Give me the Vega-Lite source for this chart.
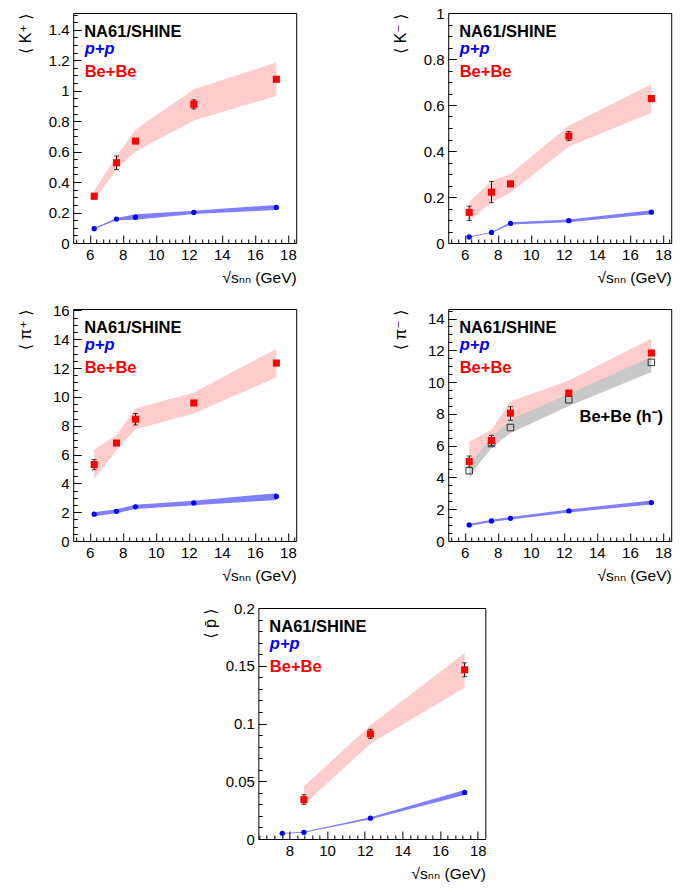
{
  "$schema": "https://vega.github.io/schema/vega-lite/v6.json",
  "background": "white",
  "padding": {"left": 16, "top": 5, "right": 5, "bottom": 5},
  "datasets": {
    "kp": [
      {"x": 6.27, "sys": "Be+Be", "y": 0.307, "lo": 0.29, "hi": 0.325, "sysLo": 0.275, "sysHi": 0.345},
      {"x": 7.62, "sys": "Be+Be", "y": 0.527, "lo": 0.483, "hi": 0.571, "sysLo": 0.485, "sysHi": 0.57},
      {"x": 8.77, "sys": "Be+Be", "y": 0.669, "lo": 0.66, "hi": 0.68, "sysLo": 0.6, "sysHi": 0.745},
      {"x": 12.3, "sys": "Be+Be", "y": 0.911, "lo": 0.88, "hi": 0.94, "sysLo": 0.805, "sysHi": 1.01},
      {"x": 17.3, "sys": "Be+Be", "y": 1.075, "lo": 1.065, "hi": 1.085, "sysLo": 0.965, "sysHi": 1.185},
      {"x": 6.27, "sys": "p+p", "y": 0.094, "sysLo": 0.09, "sysHi": 0.099},
      {"x": 7.62, "sys": "p+p", "y": 0.157, "sysLo": 0.15, "sysHi": 0.164},
      {"x": 8.77, "sys": "p+p", "y": 0.169, "sysLo": 0.152, "sysHi": 0.188},
      {"x": 12.3, "sys": "p+p", "y": 0.201, "sysLo": 0.19, "sysHi": 0.212},
      {"x": 17.3, "sys": "p+p", "y": 0.233, "sysLo": 0.217, "sysHi": 0.25}
    ],
    "km": [
      {"x": 6.27, "sys": "Be+Be", "y": 0.133, "lo": 0.098, "hi": 0.16, "sysLo": 0.095, "sysHi": 0.18},
      {"x": 7.62, "sys": "Be+Be", "y": 0.221, "lo": 0.175, "hi": 0.268, "sysLo": 0.177, "sysHi": 0.27},
      {"x": 8.77, "sys": "Be+Be", "y": 0.257, "lo": 0.25, "hi": 0.264, "sysLo": 0.218, "sysHi": 0.3},
      {"x": 12.3, "sys": "Be+Be", "y": 0.465, "lo": 0.445, "hi": 0.485, "sysLo": 0.42, "sysHi": 0.51},
      {"x": 17.3, "sys": "Be+Be", "y": 0.628, "lo": 0.62, "hi": 0.636, "sysLo": 0.565, "sysHi": 0.69},
      {"x": 6.27, "sys": "p+p", "y": 0.026, "sysLo": 0.024, "sysHi": 0.028},
      {"x": 7.62, "sys": "p+p", "y": 0.046, "sysLo": 0.044, "sysHi": 0.048},
      {"x": 8.77, "sys": "p+p", "y": 0.085, "sysLo": 0.08, "sysHi": 0.09},
      {"x": 12.3, "sys": "p+p", "y": 0.097, "sysLo": 0.09, "sysHi": 0.102},
      {"x": 17.3, "sys": "p+p", "y": 0.134, "sysLo": 0.125, "sysHi": 0.142}
    ],
    "pip": [
      {"x": 6.27, "sys": "Be+Be", "y": 5.3, "lo": 4.95, "hi": 5.65, "sysLo": 4.3, "sysHi": 6.35},
      {"x": 7.62, "sys": "Be+Be", "y": 6.8, "lo": 6.65, "hi": 6.95, "sysLo": 6.3, "sysHi": 7.35},
      {"x": 8.77, "sys": "Be+Be", "y": 8.45, "lo": 8.05, "hi": 8.85, "sysLo": 7.75, "sysHi": 9.2},
      {"x": 12.3, "sys": "Be+Be", "y": 9.58, "lo": 9.45, "hi": 9.7, "sysLo": 8.85, "sysHi": 10.3},
      {"x": 17.3, "sys": "Be+Be", "y": 12.35, "lo": 12.2, "hi": 12.5, "sysLo": 11.35, "sysHi": 13.35},
      {"x": 6.27, "sys": "p+p", "y": 1.86, "sysLo": 1.72, "sysHi": 2.0},
      {"x": 7.62, "sys": "p+p", "y": 2.06, "sysLo": 1.92, "sysHi": 2.2},
      {"x": 8.77, "sys": "p+p", "y": 2.37, "sysLo": 2.22, "sysHi": 2.52},
      {"x": 12.3, "sys": "p+p", "y": 2.64, "sysLo": 2.48, "sysHi": 2.8},
      {"x": 17.3, "sys": "p+p", "y": 3.09, "sysLo": 2.85, "sysHi": 3.32}
    ],
    "pim": [
      {"x": 6.27, "sys": "Be+Be", "y": 5.0, "lo": 4.65, "hi": 5.35, "sysLo": 3.9, "sysHi": 6.25},
      {"x": 7.62, "sys": "Be+Be", "y": 6.32, "lo": 6.0, "hi": 6.65, "sysLo": 6.15, "sysHi": 7.0},
      {"x": 8.77, "sys": "Be+Be", "y": 8.05, "lo": 7.6, "hi": 8.45, "sysLo": 7.55, "sysHi": 8.8},
      {"x": 12.3, "sys": "Be+Be", "y": 9.31, "lo": 9.2, "hi": 9.42, "sysLo": 8.7, "sysHi": 10.1},
      {"x": 17.3, "sys": "Be+Be", "y": 11.83, "lo": 11.73, "hi": 11.93, "sysLo": 11.1, "sysHi": 12.75},
      {"x": 6.27, "sys": "h-", "y": 4.42, "sysLo": 4.1, "sysHi": 4.85},
      {"x": 7.62, "sys": "h-", "y": 6.13, "sysLo": 5.85, "sysHi": 6.5},
      {"x": 8.77, "sys": "h-", "y": 7.14, "sysLo": 6.8, "sysHi": 7.65},
      {"x": 12.3, "sys": "h-", "y": 8.89, "sysLo": 8.5, "sysHi": 9.25},
      {"x": 17.3, "sys": "h-", "y": 11.24, "sysLo": 10.63, "sysHi": 11.6},
      {"x": 6.27, "sys": "p+p", "y": 1.01, "sysLo": 0.95, "sysHi": 1.07},
      {"x": 7.62, "sys": "p+p", "y": 1.26, "sysLo": 1.19, "sysHi": 1.33},
      {"x": 8.77, "sys": "p+p", "y": 1.43, "sysLo": 1.35, "sysHi": 1.51},
      {"x": 12.3, "sys": "p+p", "y": 1.89, "sysLo": 1.8, "sysHi": 1.98},
      {"x": 17.3, "sys": "p+p", "y": 2.42, "sysLo": 2.3, "sysHi": 2.55}
    ],
    "pbar": [
      {"x": 8.77, "sys": "Be+Be", "y": 0.034, "lo": 0.0298, "hi": 0.0383, "sysLo": 0.0297, "sysHi": 0.0456},
      {"x": 12.3, "sys": "Be+Be", "y": 0.091, "lo": 0.087, "hi": 0.095, "sysLo": 0.0825, "sysHi": 0.0985},
      {"x": 17.3, "sys": "Be+Be", "y": 0.1465, "lo": 0.1405, "hi": 0.1525, "sysLo": 0.131, "sysHi": 0.161},
      {"x": 7.62, "sys": "p+p", "y": 0.0049, "sysLo": 0.0045, "sysHi": 0.0053},
      {"x": 8.77, "sys": "p+p", "y": 0.0058, "sysLo": 0.0054, "sysHi": 0.0062},
      {"x": 12.3, "sys": "p+p", "y": 0.018, "sysLo": 0.0172, "sysHi": 0.0189},
      {"x": 17.3, "sys": "p+p", "y": 0.0403, "sysLo": 0.038, "sysHi": 0.0425}
    ]
  },
  "vconcat": [
    {
      "hconcat": [
        {
          "width": 223, "height": 230,
          "data": {"name": "kp"},
          "resolve": {"axis": {"x": "independent", "y": "independent"}},
          "layer": [
            {
              "encoding": {
                "x": {"field": "x", "type": "quantitative", "scale": {"domain": [5, 18.5], "nice": false, "zero": false}, "axis": {"values": [6, 8, 10, 12, 14, 16, 18], "tickCount": 100, "format": "~g", "labelOverlap": false, "title": "√sₙₙ (GeV)"}},
                "color": {"field": "sys", "type": "nominal", "scale": {"domain": ["p+p", "Be+Be"], "range": ["#0000ff", "#ff0000"]}, "legend": {"title": "NA61/SHINE", "symbolSize": 0, "labelOffset": -16, "labelColor": {"expr": "datum.label === 'p+p' ? '#0000ff' : '#ff0000'"}, "labelFontStyle": {"expr": "datum.label === 'p+p' ? 'italic' : 'normal'"}}}
              },
              "layer": [
                {"transform": [{"filter": "datum.sys === 'Be+Be'"}], "mark": {"type": "area", "opacity": 0.2}, "encoding": {"y": {"field": "sysLo", "type": "quantitative", "scale": {"domain": [0, 1.51], "nice": false}, "axis": {"values": [0, 0.2, 0.4, 0.6, 0.8, 1, 1.2, 1.4], "tickCount": 100, "format": "~g", "labelOverlap": false, "title": "⟨ K⁺ ⟩"}}, "y2": {"field": "sysHi"}}},
                {"transform": [{"filter": "datum.sys === 'p+p'"}], "mark": {"type": "area", "opacity": 0.5}, "encoding": {"y": {"field": "sysLo", "type": "quantitative"}, "y2": {"field": "sysHi"}}},
                {"transform": [{"filter": "datum.sys === 'Be+Be'"}], "mark": {"type": "errorbar", "ticks": {"size": 5}, "thickness": 1}, "encoding": {"y": {"field": "lo", "type": "quantitative", "title": "⟨ K⁺ ⟩"}, "y2": {"field": "hi"}, "color": {"value": "black"}}},
                {"transform": [{"filter": "datum.sys === 'p+p'"}], "mark": {"type": "circle", "size": 28, "opacity": 1}, "encoding": {"y": {"field": "y", "type": "quantitative"}}},
                {"transform": [{"filter": "datum.sys === 'Be+Be'"}], "mark": {"type": "square", "size": 50, "opacity": 1}, "encoding": {"y": {"field": "y", "type": "quantitative"}}}
              ]
            },
            {
              "mark": {"type": "point", "opacity": 0},
              "encoding": {
                "x": {"field": "x", "type": "quantitative", "axis": {"orient": "bottom", "values": [5.2, 5.6, 6.4, 6.8, 7.2, 7.6, 8.4, 8.8, 9.2, 9.6, 10.4, 10.8, 11.2, 11.6, 12.4, 12.8, 13.2, 13.6, 14.4, 14.8, 15.2, 15.6, 16.4, 16.8, 17.2, 17.6, 18.4], "tickCount": 100, "labels": false, "tickSize": -4, "title": null}},
                "y": {"field": "y", "type": "quantitative", "axis": {"orient": "left", "values": [0.05, 0.1, 0.15, 0.25, 0.3, 0.35, 0.45, 0.5, 0.55, 0.65, 0.7, 0.75, 0.85, 0.9, 0.95, 1.05, 1.1, 1.15, 1.25, 1.3, 1.35, 1.45, 1.5], "tickCount": 100, "labels": false, "tickSize": -4, "title": null}}
              }
            }
          ]
        },
        {
          "width": 223, "height": 230,
          "data": {"name": "km"},
          "resolve": {"axis": {"x": "independent", "y": "independent"}},
          "layer": [
            {
              "encoding": {
                "x": {"field": "x", "type": "quantitative", "scale": {"domain": [5, 18.5], "nice": false, "zero": false}, "axis": {"values": [6, 8, 10, 12, 14, 16, 18], "tickCount": 100, "format": "~g", "labelOverlap": false, "title": "√sₙₙ (GeV)"}},
                "color": {"field": "sys", "type": "nominal", "scale": {"domain": ["p+p", "Be+Be"], "range": ["#0000ff", "#ff0000"]}, "legend": {"title": "NA61/SHINE", "symbolSize": 0, "labelOffset": -16, "labelColor": {"expr": "datum.label === 'p+p' ? '#0000ff' : '#ff0000'"}, "labelFontStyle": {"expr": "datum.label === 'p+p' ? 'italic' : 'normal'"}}}
              },
              "layer": [
                {"transform": [{"filter": "datum.sys === 'Be+Be'"}], "mark": {"type": "area", "opacity": 0.2}, "encoding": {"y": {"field": "sysLo", "type": "quantitative", "scale": {"domain": [0, 1], "nice": false}, "axis": {"values": [0, 0.2, 0.4, 0.6, 0.8, 1], "tickCount": 100, "format": "~g", "labelOverlap": false, "title": "⟨ K⁻ ⟩"}}, "y2": {"field": "sysHi"}}},
                {"transform": [{"filter": "datum.sys === 'p+p'"}], "mark": {"type": "area", "opacity": 0.5}, "encoding": {"y": {"field": "sysLo", "type": "quantitative"}, "y2": {"field": "sysHi"}}},
                {"transform": [{"filter": "datum.sys === 'Be+Be'"}], "mark": {"type": "errorbar", "ticks": {"size": 5}, "thickness": 1}, "encoding": {"y": {"field": "lo", "type": "quantitative", "title": "⟨ K⁻ ⟩"}, "y2": {"field": "hi"}, "color": {"value": "black"}}},
                {"transform": [{"filter": "datum.sys === 'p+p'"}], "mark": {"type": "circle", "size": 28, "opacity": 1}, "encoding": {"y": {"field": "y", "type": "quantitative"}}},
                {"transform": [{"filter": "datum.sys === 'Be+Be'"}], "mark": {"type": "square", "size": 50, "opacity": 1}, "encoding": {"y": {"field": "y", "type": "quantitative"}}}
              ]
            },
            {
              "mark": {"type": "point", "opacity": 0},
              "encoding": {
                "x": {"field": "x", "type": "quantitative", "axis": {"orient": "bottom", "values": [5.2, 5.6, 6.4, 6.8, 7.2, 7.6, 8.4, 8.8, 9.2, 9.6, 10.4, 10.8, 11.2, 11.6, 12.4, 12.8, 13.2, 13.6, 14.4, 14.8, 15.2, 15.6, 16.4, 16.8, 17.2, 17.6, 18.4], "tickCount": 100, "labels": false, "tickSize": -4, "title": null}},
                "y": {"field": "y", "type": "quantitative", "axis": {"orient": "left", "values": [0.05, 0.1, 0.15, 0.25, 0.3, 0.35, 0.45, 0.5, 0.55, 0.65, 0.7, 0.75, 0.85, 0.9, 0.95], "tickCount": 100, "labels": false, "tickSize": -4, "title": null}}
              }
            }
          ]
        }
      ],
      "spacing": 152, "bounds": "flush",
      "resolve": {"scale": {"color": "independent"}, "legend": {"color": "independent"}}
    },
    {
      "hconcat": [
        {
          "width": 223, "height": 232,
          "data": {"name": "pip"},
          "resolve": {"axis": {"x": "independent", "y": "independent"}},
          "layer": [
            {
              "encoding": {
                "x": {"field": "x", "type": "quantitative", "scale": {"domain": [5, 18.5], "nice": false, "zero": false}, "axis": {"values": [6, 8, 10, 12, 14, 16, 18], "tickCount": 100, "format": "~g", "labelOverlap": false, "title": "√sₙₙ (GeV)"}},
                "color": {"field": "sys", "type": "nominal", "scale": {"domain": ["p+p", "Be+Be"], "range": ["#0000ff", "#ff0000"]}, "legend": {"title": "NA61/SHINE", "symbolSize": 0, "labelOffset": -16, "labelColor": {"expr": "datum.label === 'p+p' ? '#0000ff' : '#ff0000'"}, "labelFontStyle": {"expr": "datum.label === 'p+p' ? 'italic' : 'normal'"}}}
              },
              "layer": [
                {"transform": [{"filter": "datum.sys === 'Be+Be'"}], "mark": {"type": "area", "opacity": 0.2}, "encoding": {"y": {"field": "sysLo", "type": "quantitative", "scale": {"domain": [0, 16.1], "nice": false}, "axis": {"values": [0, 2, 4, 6, 8, 10, 12, 14, 16], "tickCount": 100, "format": "~g", "labelOverlap": false, "title": "⟨ π⁺ ⟩"}}, "y2": {"field": "sysHi"}}},
                {"transform": [{"filter": "datum.sys === 'p+p'"}], "mark": {"type": "area", "opacity": 0.5}, "encoding": {"y": {"field": "sysLo", "type": "quantitative"}, "y2": {"field": "sysHi"}}},
                {"transform": [{"filter": "datum.sys === 'Be+Be'"}], "mark": {"type": "errorbar", "ticks": {"size": 5}, "thickness": 1}, "encoding": {"y": {"field": "lo", "type": "quantitative", "title": "⟨ π⁺ ⟩"}, "y2": {"field": "hi"}, "color": {"value": "black"}}},
                {"transform": [{"filter": "datum.sys === 'p+p'"}], "mark": {"type": "circle", "size": 28, "opacity": 1}, "encoding": {"y": {"field": "y", "type": "quantitative"}}},
                {"transform": [{"filter": "datum.sys === 'Be+Be'"}], "mark": {"type": "square", "size": 50, "opacity": 1}, "encoding": {"y": {"field": "y", "type": "quantitative"}}}
              ]
            },
            {
              "mark": {"type": "point", "opacity": 0},
              "encoding": {
                "x": {"field": "x", "type": "quantitative", "axis": {"orient": "bottom", "values": [5.2, 5.6, 6.4, 6.8, 7.2, 7.6, 8.4, 8.8, 9.2, 9.6, 10.4, 10.8, 11.2, 11.6, 12.4, 12.8, 13.2, 13.6, 14.4, 14.8, 15.2, 15.6, 16.4, 16.8, 17.2, 17.6, 18.4], "tickCount": 100, "labels": false, "tickSize": -4, "title": null}},
                "y": {"field": "y", "type": "quantitative", "axis": {"orient": "left", "values": [0.5, 1, 1.5, 2.5, 3, 3.5, 4.5, 5, 5.5, 6.5, 7, 7.5, 8.5, 9, 9.5, 10.5, 11, 11.5, 12.5, 13, 13.5, 14.5, 15, 15.5], "tickCount": 100, "labels": false, "tickSize": -4, "title": null}}
              }
            }
          ]
        },
        {
          "width": 223, "height": 232,
          "data": {"name": "pim"},
          "resolve": {"axis": {"x": "independent", "y": "independent"}},
          "layer": [
            {
              "encoding": {
                "x": {"field": "x", "type": "quantitative", "scale": {"domain": [5, 18.5], "nice": false, "zero": false}, "axis": {"values": [6, 8, 10, 12, 14, 16, 18], "tickCount": 100, "format": "~g", "labelOverlap": false, "title": "√sₙₙ (GeV)"}},
                "color": {"field": "sys", "type": "nominal", "scale": {"domain": ["p+p", "Be+Be"], "range": ["#0000ff", "#ff0000"]}, "legend": {"title": "NA61/SHINE", "symbolSize": 0, "labelOffset": -16, "labelColor": {"expr": "datum.label === 'p+p' ? '#0000ff' : '#ff0000'"}, "labelFontStyle": {"expr": "datum.label === 'p+p' ? 'italic' : 'normal'"}}}
              },
              "layer": [
                {"transform": [{"filter": "datum.sys === 'Be+Be'"}], "mark": {"type": "area", "opacity": 0.2}, "encoding": {"y": {"field": "sysLo", "type": "quantitative", "scale": {"domain": [0, 14.6], "nice": false}, "axis": {"values": [0, 2, 4, 6, 8, 10, 12, 14], "tickCount": 100, "format": "~g", "labelOverlap": false, "title": "⟨ π⁻ ⟩"}}, "y2": {"field": "sysHi"}}},
                {"transform": [{"filter": "datum.sys === 'h-'"}], "mark": {"type": "area", "opacity": 1}, "encoding": {"y": {"field": "sysLo", "type": "quantitative"}, "y2": {"field": "sysHi"}, "color": {"value": "#c8c8c8"}}},
                {"transform": [{"filter": "datum.sys === 'p+p'"}], "mark": {"type": "area", "opacity": 0.5}, "encoding": {"y": {"field": "sysLo", "type": "quantitative"}, "y2": {"field": "sysHi"}}},
                {"transform": [{"filter": "datum.sys === 'Be+Be'"}], "mark": {"type": "errorbar", "ticks": {"size": 5}, "thickness": 1}, "encoding": {"y": {"field": "lo", "type": "quantitative", "title": "⟨ π⁻ ⟩"}, "y2": {"field": "hi"}, "color": {"value": "black"}}},
                {"transform": [{"filter": "datum.sys === 'p+p'"}], "mark": {"type": "circle", "size": 28, "opacity": 1}, "encoding": {"y": {"field": "y", "type": "quantitative"}}},
                {"transform": [{"filter": "datum.sys === 'h-'"}], "mark": {"type": "square", "size": 42, "filled": false, "strokeWidth": 1, "opacity": 1}, "encoding": {"y": {"field": "y", "type": "quantitative"}, "color": {"value": "#333333"}}},
                {"transform": [{"filter": "datum.sys === 'Be+Be'"}], "mark": {"type": "square", "size": 50, "opacity": 1}, "encoding": {"y": {"field": "y", "type": "quantitative"}}}
              ]
            },
            {
              "mark": {"type": "point", "opacity": 0},
              "encoding": {
                "x": {"field": "x", "type": "quantitative", "axis": {"orient": "bottom", "values": [5.2, 5.6, 6.4, 6.8, 7.2, 7.6, 8.4, 8.8, 9.2, 9.6, 10.4, 10.8, 11.2, 11.6, 12.4, 12.8, 13.2, 13.6, 14.4, 14.8, 15.2, 15.6, 16.4, 16.8, 17.2, 17.6, 18.4], "tickCount": 100, "labels": false, "tickSize": -4, "title": null}},
                "y": {"field": "y", "type": "quantitative", "axis": {"orient": "left", "values": [0.5, 1, 1.5, 2.5, 3, 3.5, 4.5, 5, 5.5, 6.5, 7, 7.5, 8.5, 9, 9.5, 10.5, 11, 11.5, 12.5, 13, 13.5, 14.5], "tickCount": 100, "labels": false, "tickSize": -4, "title": null}}
              }
            },
            {
              "data": {"values": [{"note": "Be+Be (h⁻)"}]},
              "mark": {"type": "text", "align": "left", "baseline": "middle", "fontSize": 16.5, "fontWeight": "bold", "fill": "black"},
              "encoding": {"x": {"datum": 12.95, "axis": null}, "y": {"datum": 7.8, "axis": null}, "text": {"field": "note"}}
            }
          ]
        }
      ],
      "spacing": 152, "bounds": "flush",
      "resolve": {"scale": {"color": "independent"}, "legend": {"color": "independent"}}
    },
    {
      "width": 227, "height": 231,
      "data": {"name": "pbar"},
      "resolve": {"axis": {"x": "independent", "y": "independent"}},
      "layer": [
        {
          "encoding": {
            "x": {"field": "x", "type": "quantitative", "scale": {"domain": [6.35, 18.4], "nice": false, "zero": false}, "axis": {"values": [8, 10, 12, 14, 16, 18], "tickCount": 100, "format": "~g", "labelOverlap": false, "title": "√sₙₙ (GeV)"}},
            "color": {"field": "sys", "type": "nominal", "scale": {"domain": ["p+p", "Be+Be"], "range": ["#0000ff", "#ff0000"]}, "legend": {"title": "NA61/SHINE", "symbolSize": 0, "labelOffset": -16, "labelColor": {"expr": "datum.label === 'p+p' ? '#0000ff' : '#ff0000'"}, "labelFontStyle": {"expr": "datum.label === 'p+p' ? 'italic' : 'normal'"}}}
          },
          "layer": [
            {"transform": [{"filter": "datum.sys === 'Be+Be'"}], "mark": {"type": "area", "opacity": 0.2}, "encoding": {"y": {"field": "sysLo", "type": "quantitative", "scale": {"domain": [0, 0.2], "nice": false}, "axis": {"values": [0, 0.05, 0.1, 0.15, 0.2], "tickCount": 100, "format": "~g", "labelOverlap": false, "title": "⟨ p̄ ⟩"}}, "y2": {"field": "sysHi"}}},
            {"transform": [{"filter": "datum.sys === 'p+p'"}], "mark": {"type": "area", "opacity": 0.5}, "encoding": {"y": {"field": "sysLo", "type": "quantitative"}, "y2": {"field": "sysHi"}}},
            {"transform": [{"filter": "datum.sys === 'Be+Be'"}], "mark": {"type": "errorbar", "ticks": {"size": 5}, "thickness": 1}, "encoding": {"y": {"field": "lo", "type": "quantitative", "title": "⟨ p̄ ⟩"}, "y2": {"field": "hi"}, "color": {"value": "black"}}},
            {"transform": [{"filter": "datum.sys === 'p+p'"}], "mark": {"type": "circle", "size": 28, "opacity": 1}, "encoding": {"y": {"field": "y", "type": "quantitative"}}},
            {"transform": [{"filter": "datum.sys === 'Be+Be'"}], "mark": {"type": "square", "size": 50, "opacity": 1}, "encoding": {"y": {"field": "y", "type": "quantitative"}}}
          ]
        },
        {
          "mark": {"type": "point", "opacity": 0},
          "encoding": {
            "x": {"field": "x", "type": "quantitative", "axis": {"orient": "bottom", "values": [6.4, 6.8, 7.2, 7.6, 8.4, 8.8, 9.2, 9.6, 10.4, 10.8, 11.2, 11.6, 12.4, 12.8, 13.2, 13.6, 14.4, 14.8, 15.2, 15.6, 16.4, 16.8, 17.2, 17.6], "tickCount": 100, "labels": false, "tickSize": -4, "title": null}},
            "y": {"field": "y", "type": "quantitative", "axis": {"orient": "left", "values": [0.01, 0.02, 0.03, 0.04, 0.06, 0.07, 0.08, 0.09, 0.11, 0.12, 0.13, 0.14, 0.16, 0.17, 0.18, 0.19], "tickCount": 100, "labels": false, "tickSize": -4, "title": null}}
          }
        }
      ]
    }
  ],
  "spacing": 16,
  "center": true,
  "resolve": {"scale": {"color": "independent"}, "legend": {"color": "independent"}},
  "config": {
    "font": "Liberation Sans",
    "view": {"stroke": "black", "strokeWidth": 1},
    "axis": {"grid": false, "domain": false, "tickColor": "black", "tickSize": -8, "tickWidth": 1, "labelFont": "Liberation Sans", "labelFontSize": 15, "labelColor": "black", "labelPadding": 12, "labelFlush": false, "labelOverlap": false, "titleFont": "Liberation Sans, DejaVu Sans", "titleFontSize": 15.5, "titleFontWeight": "normal", "titleColor": "black"},
    "axisX": {"titleAnchor": "end", "titlePadding": 8},
    "axisY": {"titleAnchor": "end", "titlePadding": 6, "minExtent": 34, "maxExtent": 34, "titleFontSize": 16},
    "legend": {"orient": "top-left", "offset": 11, "padding": 0, "titleFont": "Liberation Sans", "titleFontSize": 16.5, "titleFontWeight": "bold", "titleColor": "black", "titlePadding": 0, "labelFont": "Liberation Sans", "labelFontSize": 16.5, "labelFontWeight": "bold", "labelOffset": 0, "symbolSize": 0, "symbolOpacity": 0, "symbolStrokeWidth": 0, "rowPadding": 6, "labelLimit": 300}
  }
}
